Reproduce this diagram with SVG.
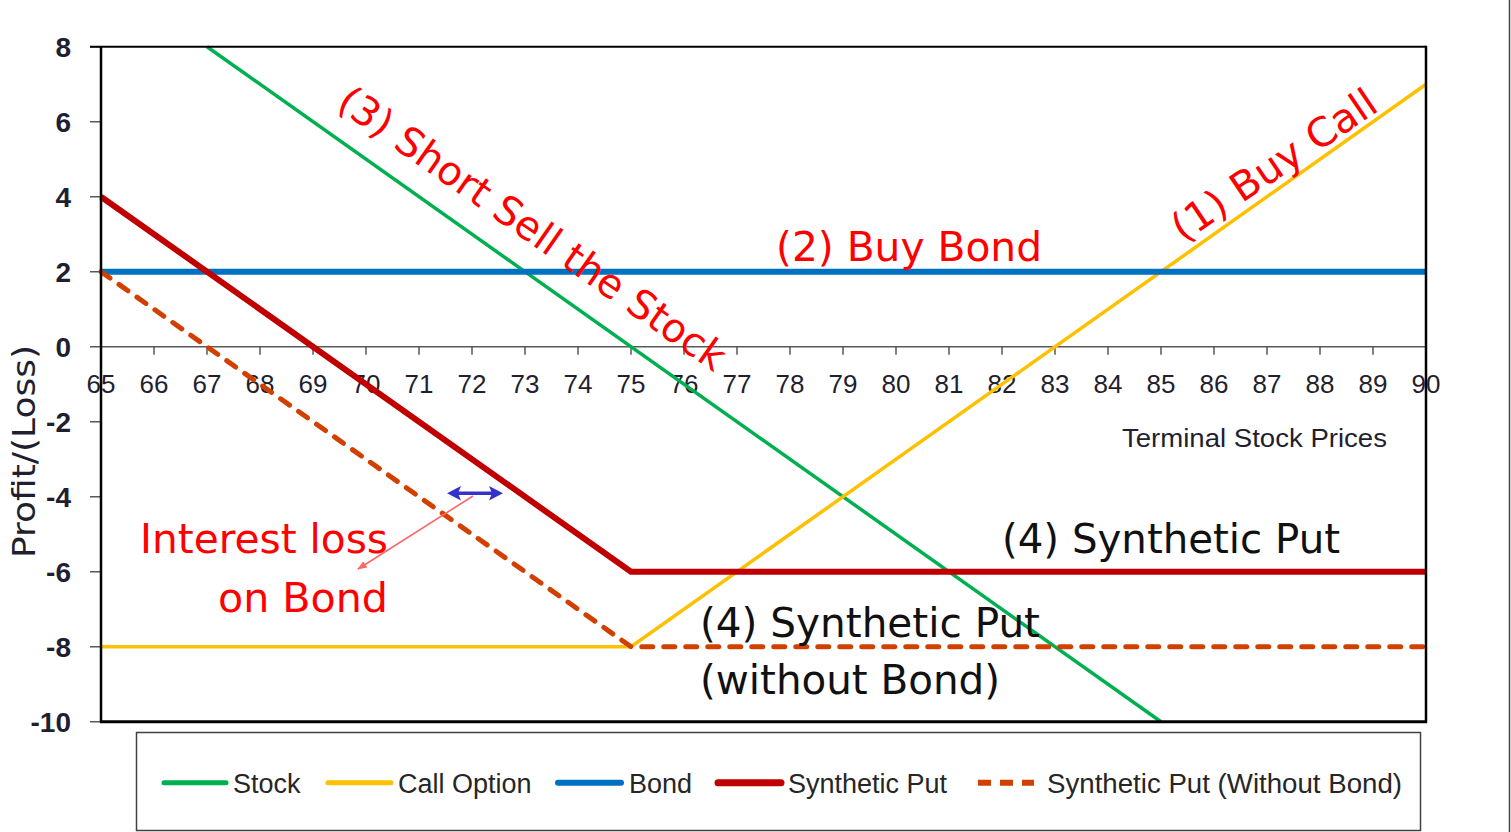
<svg xmlns="http://www.w3.org/2000/svg" width="1511" height="832" viewBox="0 0 1511 832">
<style>
.tk{stroke:#595959;stroke-width:1.5;fill:none}
.xl{font-family:"Liberation Sans",Arial,sans-serif;font-size:26px;fill:#1f1f2f;text-anchor:middle}
.yl{font-family:"Liberation Sans",Arial,sans-serif;font-size:28px;font-weight:bold;fill:#1f1f2f;text-anchor:end}
.big{font-family:"DejaVu Sans",Verdana,sans-serif;font-size:40px}
.red{fill:#ff0000}
.blk{fill:#111111}
.lg{font-family:"Liberation Sans",Arial,sans-serif;font-size:27px;fill:#262626}
.ser{fill:none;stroke-linejoin:miter}
</style>
<defs>
<marker id="ph" viewBox="0 0 10 10" refX="9" refY="5" markerWidth="6" markerHeight="6" orient="auto" markerUnits="strokeWidth">
<path d="M0,1 L10,5 L0,9 Z" fill="#ff6666"/>
</marker>
</defs>
<rect width="1511" height="832" fill="#ffffff"/>
<line x1="1509.5" y1="0" x2="1509.5" y2="832" stroke="#444" stroke-width="1.5"/>

<g id="axes">
<line x1="90" y1="346.7" x2="1426" y2="346.7" class="tk"/>
<path class="tk" d="M154,346.7v8M207,346.7v8M260,346.7v8M313,346.7v8M366,346.7v8M419,346.7v8M472,346.7v8M525,346.7v8M578,346.7v8M631,346.7v8M684,346.7v8M737,346.7v8M790,346.7v8M843,346.7v8M896,346.7v8M949,346.7v8M1002,346.7v8M1055,346.7v8M1108,346.7v8M1161,346.7v8M1214,346.7v8M1267,346.7v8M1320,346.7v8M1373,346.7v8"/>
<path class="tk" d="M90,46.7h11M90,121.7h11M90,196.7h11M90,271.7h11M90,421.7h11M90,496.7h11M90,571.7h11M90,646.7h11M90,721.7h11"/>
<g class="yl">
<text x="71" y="57">8</text><text x="71" y="132">6</text><text x="71" y="207">4</text><text x="71" y="282">2</text><text x="71" y="357">0</text>
<text x="71" y="432">-2</text><text x="71" y="507">-4</text><text x="71" y="582">-6</text><text x="71" y="657">-8</text><text x="71" y="732">-10</text>
</g>
<g class="xl">
<text x="101" y="393">65</text><text x="154" y="393">66</text><text x="207" y="393">67</text><text x="260" y="393">68</text><text x="313" y="393">69</text><text x="366" y="393">70</text><text x="419" y="393">71</text><text x="472" y="393">72</text><text x="525" y="393">73</text><text x="578" y="393">74</text><text x="631" y="393">75</text><text x="684" y="393">76</text><text x="737" y="393">77</text><text x="790" y="393">78</text><text x="843" y="393">79</text><text x="896" y="393">80</text><text x="949" y="393">81</text><text x="1002" y="393">82</text><text x="1055" y="393">83</text><text x="1108" y="393">84</text><text x="1161" y="393">85</text><text x="1214" y="393">86</text><text x="1267" y="393">87</text><text x="1320" y="393">88</text><text x="1373" y="393">89</text><text x="1426" y="393">90</text>
</g>
<text x="1122" y="447" font-family="'Liberation Sans',Arial,sans-serif" font-size="25" fill="#1f1f2f" textLength="265" lengthAdjust="spacingAndGlyphs">Terminal Stock Prices</text>
<text transform="translate(35,558) rotate(-90)" font-family="'DejaVu Sans',Verdana,sans-serif" font-size="32" fill="#1f1f2f" textLength="213" lengthAdjust="spacingAndGlyphs">Profit/(Loss)</text>
</g>

<g id="series">
<polyline id="stock" class="ser" stroke="#00b050" stroke-width="3.5" points="207,46.7 1161,721.7"/>
<polyline id="call" class="ser" stroke="#ffc000" stroke-width="3.5" points="101,646.7 631,646.7 1426,84.2"/>
<polyline id="bond" class="ser" stroke="#0070c0" stroke-width="6" points="101,271.7 1426,271.7"/>
<polyline id="synput" class="ser" stroke="#c00000" stroke-width="6" points="101,196.7 631,571.7 1426,571.7"/>
<polyline id="synputnb" class="ser" stroke="#d24000" stroke-width="5" stroke-dasharray="11 11" stroke-linecap="round" points="101,271.7 631,646.7 1426,646.7"/>
</g>

<g id="frame" fill="none" stroke="#000">
<line x1="90" y1="46.7" x2="1426" y2="46.7" stroke-width="2"/>
<line x1="101" y1="46.7" x2="101" y2="721.7" stroke-width="2.5"/>
<line x1="1426" y1="45.7" x2="1426" y2="722.7" stroke-width="2.5"/>
<line x1="100" y1="721.7" x2="1427" y2="721.7" stroke-width="3"/>
</g>

<g id="connectors">
<g id="gap-arrow" fill="#3333cc">
<line x1="456" y1="493.3" x2="494" y2="493.3" stroke="#3333cc" stroke-width="3.5"/>
<polygon points="447,493.3 461,486 458,493.3 461,500.6"/>
<polygon points="503,493.3 489,486 492,493.3 489,500.6"/>
</g>
<line x1="473" y1="496" x2="358" y2="569" stroke="#ff6666" stroke-width="1.6" marker-end="url(#ph)"/>
</g>

<g id="labels">
<text class="big red" transform="translate(335,107) rotate(35)" textLength="463" lengthAdjust="spacingAndGlyphs">(3) Short Sell the Stock</text>
<text class="big red" x="776" y="261" textLength="266" lengthAdjust="spacingAndGlyphs">(2) Buy Bond</text>
<text class="big red" transform="translate(1183,243) rotate(-34)" textLength="238" lengthAdjust="spacingAndGlyphs">(1) Buy Call</text>
<text class="big blk" x="1002" y="553" textLength="338" lengthAdjust="spacingAndGlyphs">(4) Synthetic Put</text>
<text class="big blk" x="700" y="637" textLength="340" lengthAdjust="spacingAndGlyphs">(4) Synthetic Put</text>
<text class="big blk" x="700" y="694" textLength="300" lengthAdjust="spacingAndGlyphs">(without Bond)</text>
<text class="big red" x="140" y="553" textLength="248" lengthAdjust="spacingAndGlyphs">Interest loss</text>
<text class="big red" x="218" y="612" textLength="170" lengthAdjust="spacingAndGlyphs">on Bond</text>
</g>

<g id="legend">
<rect x="136.5" y="732.5" width="1284" height="98" fill="#fff" stroke="#404040" stroke-width="1.5"/>
<line x1="164" y1="782.7" x2="226" y2="782.7" stroke="#00b050" stroke-width="5" stroke-linecap="round"/>
<text class="lg" x="233" y="793">Stock</text>
<line x1="328" y1="782.7" x2="391" y2="782.7" stroke="#ffc000" stroke-width="5" stroke-linecap="round"/>
<text class="lg" x="398" y="793">Call Option</text>
<line x1="558" y1="782.7" x2="621" y2="782.7" stroke="#0070c0" stroke-width="6" stroke-linecap="round"/>
<text class="lg" x="629" y="793">Bond</text>
<line x1="718" y1="782.7" x2="781" y2="782.7" stroke="#c00000" stroke-width="7" stroke-linecap="round"/>
<text class="lg" x="788" y="793">Synthetic Put</text>
<line x1="978" y1="782.7" x2="1034" y2="782.7" stroke="#d24000" stroke-width="6" stroke-dasharray="13 9" stroke-linecap="butt"/>
<text class="lg" x="1047" y="793" textLength="355" lengthAdjust="spacingAndGlyphs">Synthetic Put (Without Bond)</text>
</g>
</svg>
